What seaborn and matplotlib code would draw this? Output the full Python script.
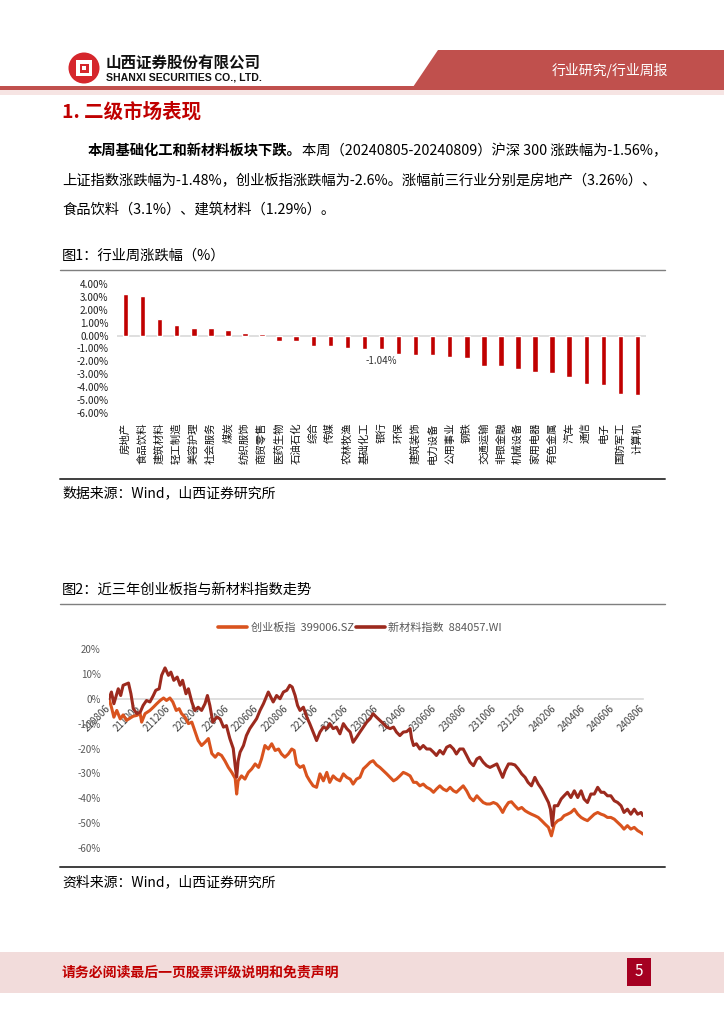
import numpy as np
import pandas as pd
import matplotlib
matplotlib.use("Agg")
import matplotlib.pyplot as plt
import seaborn as sns
from matplotlib.patches import Polygon, Rectangle, Circle
from matplotlib.lines import Line2D
from matplotlib.ticker import FuncFormatter, FixedLocator, FixedFormatter

# ---------------- data: chart 1 ----------------
INDUSTRIES = ["房地产", "食品饮料", "建筑材料", "轻工制造", "美容护理", "社会服务", "煤炭",
              "纺织服饰", "商贸零售", "医药生物", "石油石化", "综合", "传媒", "农林牧渔",
              "基础化工", "银行", "环保", "建筑装饰", "电力设备", "公用事业", "钢铁",
              "交通运输", "非银金融", "机械设备", "家用电器", "有色金属", "汽车", "通信",
              "电子", "国防军工", "计算机"]
WEEKLY_CHG = [3.26, 3.10, 1.29, 0.80, 0.59, 0.58, 0.41, 0.23, 0.12, -0.44, -0.45, -0.78,
              -0.79, -0.98, -1.01, -1.04, -1.45, -1.50, -1.51, -1.63, -1.73, -2.33, -2.34,
              -2.56, -2.82, -2.90, -3.23, -3.75, -3.83, -4.50, -4.63]
LABELED_INDUSTRY = "银行"
LABEL_TEXT = "-1.04%"

# ---------------- data: chart 2 (days after 2021-08-06, cumulative %) ----------------
START_DATE = "2021-08-06"
CYB_DAYS = [0, 5, 10, 16, 23, 29, 36, 43, 50, 57, 64, 67, 74, 84, 91, 98, 105, 112, 118, 125,
            131, 138, 144, 149, 156, 163, 170, 177, 183, 190, 197, 204, 211, 218, 224, 231, 238, 245, 252, 259,
            262, 265,
            272, 279, 286, 293, 300, 307, 313, 320, 327, 334, 341, 348, 354, 361, 368, 375, 380, 385, 392, 399,
            406, 412, 419, 426, 433, 440, 447, 453, 460, 467, 474, 481, 488, 495, 501, 508, 515, 522, 529, 536,
            542,
            549, 556, 563, 570, 577, 584, 590, 597, 604, 611, 618, 625, 631, 638, 645, 652, 659, 666, 672, 679,
            686, 693, 700, 707, 713, 720, 727, 734, 741, 748, 755, 761, 768, 775, 782, 789, 796, 802, 808, 813,
            820,
            826, 833, 840, 847, 854, 860, 867, 874, 881, 888, 895, 902, 908, 914, 921, 928, 934, 941, 948, 955,
            962, 969, 975, 982, 989, 996, 1003, 1010, 1016, 1023, 1030, 1037, 1044, 1051, 1057, 1064, 1071, 1078,
            1085, 1092, 1096]
CYB_VALS = [0, -3.4, -7.4, -4.7, -8.1, -6.5, -8.7, -7.8, -7.0, -6.7, -6.0, -9.4, -6.0, -4.7, -3.4, -2.0, -0.7, 0.3, -0.7, 0.3,
            -1.3, -4.7, -4.0, -6.0, -7.4, -10.0, -9.4, -13.4, -16.8, -18.8, -17.5, -16.0, -22.0, -23.5, -22.0, -22.8, -25.0, -27.6, -29.6, -32.0,
            -38.3, -33.0,
            -31.0, -32.3, -29.6, -28.2, -26.2, -27.6, -24.2, -18.8, -20.2, -18.1, -20.8, -20.2, -22.2, -23.5, -22.2, -20.2, -20.8, -26.2, -27.6, -26.9,
            -31.0, -33.0, -35.0, -35.6, -30.2, -33.0, -29.6, -33.6, -31.0, -32.3, -33.0, -30.2, -31.6, -32.3, -34.3, -32.3, -31.6, -28.2, -26.9, -25.5,
            -24.9,
            -26.6, -27.6, -28.9, -30.2, -31.6, -33.0, -32.3, -31.0, -29.6, -30.2, -31.0, -33.6, -33.6, -35.0, -34.3, -35.6, -36.3, -37.6, -36.3, -35.0,
            -36.3, -37.0, -35.6, -37.0, -37.6, -36.3, -35.0, -37.0, -39.7, -41.0, -39.0, -40.3, -41.7, -42.3, -42.3, -41.7, -42.3, -43.7, -45.7, -43.7,
            -41.7,
            -41.4, -43.0, -44.4, -43.7, -45.0, -45.7, -46.4, -47.0, -47.7, -49.0, -50.4, -51.7, -55.1, -50.4, -49.0, -48.4, -47.0, -46.4, -45.7, -44.4,
            -46.4, -47.7, -48.4, -49.0, -47.7, -46.4, -45.7, -46.4, -46.8, -47.7, -47.7, -48.4, -49.7, -51.0, -52.4, -51.0, -52.4, -51.7,
            -53.0, -53.8, -54.4]
NM_DAYS = [0, 5, 10, 19, 24, 29, 36, 40, 45, 50, 57, 64, 70, 77, 84, 91, 96, 103, 108, 115,
           122, 127, 133, 140, 146, 151, 158, 163, 170, 176, 183, 190, 197, 202, 207, 213, 221, 228, 235, 241,
           248, 255, 259, 262, 265,
           269, 276, 282, 289, 296, 303, 310, 317, 324, 327, 332, 337, 344, 351, 358, 365, 371, 376, 382, 387,
           392, 399, 406, 412, 419, 426, 433, 440, 447, 453, 460, 467, 474, 481, 488, 495, 501, 508, 515, 522,
           529, 536, 542,
           549, 556, 563, 570, 577, 584, 590, 597, 604, 611, 618, 621, 625, 631, 638, 645, 652, 659, 666, 672,
           679, 686, 693, 700, 707, 713, 720, 727, 734, 741, 748, 755, 761, 768, 775, 782, 789, 796, 802, 808,
           813, 820,
           826, 833, 840, 847, 854, 860, 867, 874, 881, 888, 895, 902, 906, 910, 914, 921, 928, 934, 941, 948,
           955, 962, 969, 975, 982, 989, 996, 1003, 1010, 1016, 1023, 1030, 1037, 1044, 1051, 1057, 1064, 1071,
           1078, 1085, 1092, 1096]
NM_VALS = [0, 2.7, -2.0, 4.0, 1.3, 5.4, 6.0, 6.3, 2.0, -4.0, -6.0, -5.4, -2.7, -0.7, -1.3, 1.3, 3.4, 4.0, 9.4, 12.4,
           9.4, 10.7, 7.4, 8.7, 5.4, 7.4, 2.0, 4.0, -1.3, -4.7, -3.4, -4.7, -2.0, 1.3, -2.7, -9.4, -7.4, -8.1, -11.4, -10.8,
           -16.0, -20.0, -27.0, -31.5, -25.0,
           -21.5, -18.8, -14.8, -12.0, -10.0, -8.0, -4.7, -2.0, 1.3, 2.7, 0.7, -1.3, 1.3, 0.0, 2.7, 3.4, 5.4, 4.7, 1.3, -2.7,
           -4.7, -3.4, -7.4, -10.0, -13.4, -16.8, -13.4, -11.4, -12.0, -10.0, -12.0, -11.4, -14.1, -10.0, -12.0, -13.4, -17.5, -15.5, -13.4, -11.4,
           -9.4, -8.0, -6.0,
           -7.4, -8.7, -10.0, -11.4, -12.0, -11.4, -13.4, -14.8, -13.4, -13.2, -12.0, -16.0, -18.8, -18.1, -20.2, -18.8, -20.2, -20.2, -21.5, -22.8,
           -20.8, -22.2, -19.5, -18.8, -20.2, -22.2, -20.2, -20.2, -22.8, -25.5, -26.9, -24.2, -23.5, -25.5, -26.9, -27.6, -26.9, -26.2, -28.9, -31.6,
           -28.9, -26.2,
           -26.2, -26.6, -28.2, -30.2, -31.6, -33.6, -35.0, -31.6, -34.3, -36.3, -39.0, -41.7, -44.4, -51.0, -43.0, -43.0, -40.3, -39.0, -37.6, -39.7,
           -37.0, -39.7, -37.0, -40.3, -41.7, -38.3, -38.3, -35.6, -37.6, -37.6, -39.0, -39.0, -41.0, -41.7, -43.0, -45.7, -44.4, -46.4,
           -44.4, -46.4, -45.7, -47.0]
SERIES_NAMES = ["创业板指  399006.SZ", "新材料指数  884057.WI"]
SERIES_COLORS = ["#D9531E", "#9C2A1E"]
X_TICKS = ["210806", "211006", "211206", "220206", "220406", "220606", "220806", "221006",
           "221206", "230206", "230406", "230606", "230806", "231006", "231206", "240206",
           "240406", "240606", "240806"]
Y_TICKS2 = [20, 10, 0, -10, -20, -30, -40, -50, -60]

# ---------------- style ----------------
sns.set_theme(style="white")
plt.rcParams["font.family"] = ["Noto Sans CJK SC", "DejaVu Sans"]
plt.rcParams["axes.unicode_minus"] = False

W, H = 724, 1024
fig = plt.figure(figsize=(W / 100, H / 100), dpi=100)


def ax_px(x0, y0, x1, y1, **kw):
    return fig.add_axes([x0 / W, 1 - y1 / H, (x1 - x0) / W, (y1 - y0) / H], **kw)


# background / page layer in pixel coordinates
bg = ax_px(0, 0, W, H, zorder=0)
bg.set_xlim(0, W)
bg.set_ylim(H, 0)
bg.axis("off")

RED = "#C0504D"
# header
bg.add_patch(Polygon([(438, 50), (W, 50), (W, 87), (413, 87)], closed=True, color=RED, lw=0))
bg.add_patch(Rectangle((0, 86), W, 4, color=RED, lw=0))
bg.add_patch(Rectangle((0, 90), W, 5, color="#F6E4E3", lw=0))
bg.text(610, 70, "行业研究/行业周报", color="white", fontsize=10, ha="center", va="center")
bg.add_patch(Circle((84, 68), 15.5, color="#D5262C", lw=0))
bg.add_patch(Rectangle((76, 60), 16, 16, facecolor="white", edgecolor="none"))
bg.add_patch(Rectangle((79.5, 63.5), 9, 9, facecolor="#D5262C", edgecolor="none"))
bg.add_patch(Rectangle((82, 66), 4, 4, facecolor="white", edgecolor="none"))
bg.text(106, 63, "山西证券股份有限公司", fontsize=11.2, fontweight="bold", color="#111111",
        ha="left", va="center")
bg.text(106, 78, "SHANXI SECURITIES CO., LTD.", fontsize=7.6, fontweight="bold", color="#111111",
        ha="left", va="center", family=["Liberation Sans", "DejaVu Sans"])

# section title
bg.text(62, 112, "1. 二级市场表现", fontsize=14, fontweight="bold", color="#C00000",
        ha="left", va="center")

# paragraph
renderer = fig.canvas.get_renderer()
PFS = 10.3
t_bold = bg.text(88, 151, "本周基础化工和新材料板块下跌。", fontsize=PFS, fontweight="bold",
                 color="black", ha="left", va="center")
bb = t_bold.get_window_extent(renderer=renderer)
bg.text(88 + bb.width, 151, "本周（20240805-20240809）沪深 300 涨跌幅为-1.56%，", fontsize=PFS,
        color="black", ha="left", va="center")
bg.text(62, 181, "上证指数涨跌幅为-1.48%，创业板指涨跌幅为-2.6%。涨幅前三行业分别是房地产（3.26%）、",
        fontsize=PFS, color="black", ha="left", va="center")
bg.text(62, 210, "食品饮料（3.1%）、建筑材料（1.29%）。", fontsize=PFS, color="black",
        ha="left", va="center")

# chart frames and captions
CAP_FS = 10.3
bg.text(62, 256, "图1：行业周涨跌幅（%）", fontsize=CAP_FS, ha="left", va="center", color="black")
bg.plot([60, 665], [270, 270], color="#7F7F7F", lw=1.0)
bg.plot([60, 665], [479, 479], color="#3F3F3F", lw=1.4)
bg.text(62, 493, "数据来源：Wind，山西证券研究所", fontsize=10, ha="left", va="center", color="black")

bg.text(62, 590, "图2：近三年创业板指与新材料指数走势", fontsize=CAP_FS, ha="left", va="center", color="black")
bg.plot([60, 665], [604, 604], color="#7F7F7F", lw=1.0)
bg.plot([60, 665], [867, 867], color="#3F3F3F", lw=1.4)
bg.text(62, 882, "资料来源：Wind，山西证券研究所", fontsize=10, ha="left", va="center", color="black")

# footer
bg.add_patch(Rectangle((0, 952), W, 41, color="#F2DCDB", lw=0))
bg.text(62, 972, "请务必阅读最后一页股票评级说明和免责声明", fontsize=10, fontweight="bold",
        color="#C00000", ha="left", va="center")
bg.add_patch(Rectangle((627, 958), 24, 28, color="#A50021", lw=0))
bg.text(639, 972, "5", fontsize=11, color="white", ha="center", va="center")

# ---------------- chart 1: bars ----------------
ax1 = ax_px(117, 284, 646, 413, zorder=2)
ax1.patch.set_alpha(0)
sns.barplot(x=INDUSTRIES, y=WEEKLY_CHG, color="#C00000", saturation=1, width=0.32, ax=ax1)
ax1.set_xlim(-0.5, len(INDUSTRIES) - 0.5)
ax1.set_ylim(-6, 4)
ax1.set_yticks(np.arange(-6, 4.01, 1))
ax1.yaxis.set_major_formatter(FuncFormatter(lambda v, p: f"{v:.2f}%"))
ax1.axhline(0, color="#D9D9D9", lw=1.2, zorder=0)
for s in ax1.spines.values():
    s.set_visible(False)
ax1.tick_params(axis="y", length=0, pad=6, labelsize=7.2, labelcolor="#222222")
ax1.tick_params(axis="x", length=0, pad=7, labelsize=7.5, labelcolor="#111111", labelrotation=90)
ax1.set_xlabel("")
ax1.set_ylabel("")
li = INDUSTRIES.index(LABELED_INDUSTRY)
ax1.text(li, WEEKLY_CHG[li] - 0.95, LABEL_TEXT, ha="center", va="center", fontsize=7, color="#333333")

# ---------------- chart 2: lines ----------------
start = pd.Timestamp(START_DATE)
df = pd.concat([
    pd.DataFrame({"date": start + pd.to_timedelta(CYB_DAYS, unit="D"), "value": CYB_VALS,
                  "series": SERIES_NAMES[0]}),
    pd.DataFrame({"date": start + pd.to_timedelta(NM_DAYS, unit="D"), "value": NM_VALS,
                  "series": SERIES_NAMES[1]}),
], ignore_index=True)

ax2 = ax_px(109, 644, 643, 855.5, zorder=2)
ax2.patch.set_alpha(0)
sns.lineplot(data=df, x="date", y="value", hue="series", hue_order=SERIES_NAMES,
             palette=SERIES_COLORS, linewidth=2.2, legend=False, ax=ax2)
ax2.set_xlim(start, start + pd.Timedelta(days=1096))
ax2.set_ylim(-63, 22)
ax2.set_yticks(Y_TICKS2)
ax2.yaxis.set_major_formatter(FuncFormatter(lambda v, p: f"{v:.0f}%"))
tick_dates = pd.to_datetime(X_TICKS, format="%y%m%d")
ax2.set_xlabel("")
ax2.set_ylabel("")
for k in ["top", "right", "left"]:
    ax2.spines[k].set_visible(False)
ax2.spines["bottom"].set_position(("data", 0))
ax2.spines["bottom"].set_color("#D9D9D9")
ax2.spines["bottom"].set_linewidth(1.2)
ax2.spines["bottom"].set_zorder(0)
ax2.tick_params(axis="x", length=4, width=1, color="#D9D9D9", direction="out", pad=2,
                labelsize=7, labelcolor="#404040")
ax2.tick_params(axis="y", length=0, pad=6, labelsize=7, labelcolor="#595959")
ax2.xaxis.set_major_locator(FixedLocator(matplotlib.dates.date2num(tick_dates)))
ax2.xaxis.set_major_formatter(FixedFormatter(X_TICKS))
ax2.xaxis.set_minor_locator(FixedLocator([]))

handles = [Line2D([0], [0], color=c, lw=2.6) for c in SERIES_COLORS]
fig.legend(handles, SERIES_NAMES, loc="center", bbox_to_anchor=(360 / W, 1 - 628 / H), ncol=2,
           frameon=False, fontsize=8, labelcolor="#595959", handlelength=2.6, handletextpad=0.3,
           columnspacing=0.2)

fig.canvas.draw()
for lab in ax2.get_xticklabels():
    lab.set_rotation(45)
    lab.set_horizontalalignment("right")
    lab.set_verticalalignment("center")
    lab.set_rotation_mode("anchor")

fig.savefig("out.png", dpi=100)
